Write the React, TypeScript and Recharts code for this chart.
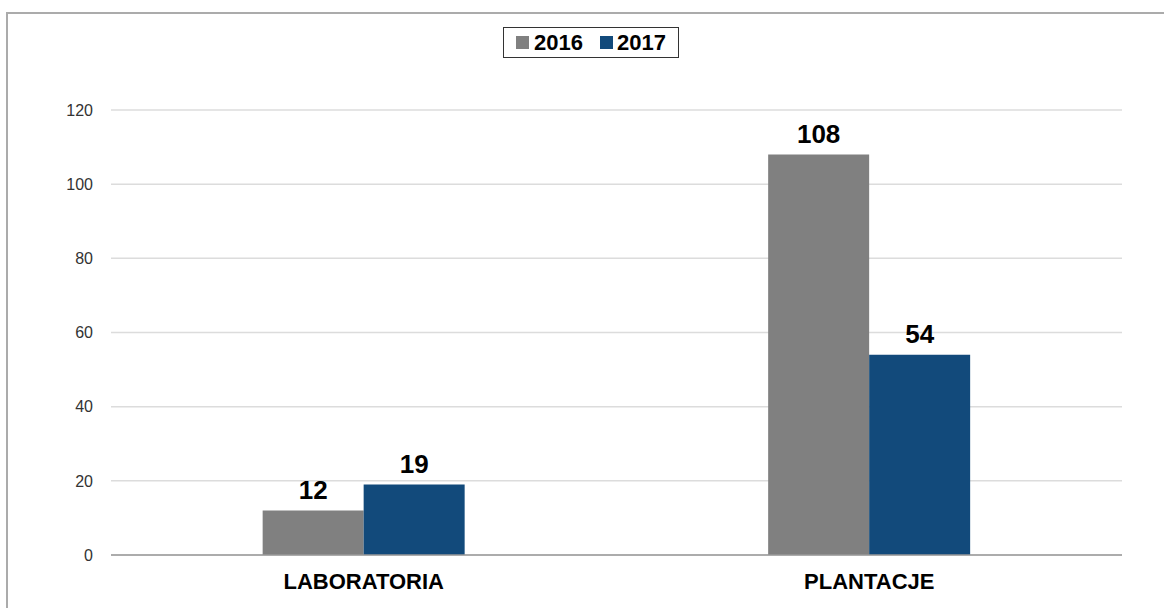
import { Bar, BarChart, CartesianGrid, LabelList, Legend, XAxis, YAxis } from 'recharts';

const categories = ['LABORATORIA', 'PLANTACJE'];
const values2016 = [12, 108];
const values2017 = [19, 54];
const yTicks = [0, 20, 40, 60, 80, 100, 120];

const COLOR_2016 = '#808080';
const COLOR_2017 = '#124a7b';

const chartData = categories.map((name, i) => ({
  name,
  y2016: values2016[i],
  y2017: values2017[i],
}));

// legend box drawn by hand to get the framed look
const renderLegend = () => (
  <div
    style={{
      border: '1px solid #333',
      height: 29,
      display: 'flex',
      alignItems: 'center',
      justifyContent: 'center',
      gap: 17,
      fontFamily: 'Arial, "Liberation Sans", sans-serif',
      fontWeight: 'bold',
      fontSize: 22,
      color: '#000',
      background: '#fff',
    }}
  >
    <span style={{ display: 'flex', alignItems: 'center' }}>
      <span style={{ width: 13, height: 13, background: COLOR_2016, marginRight: 5 }} />
      2016
    </span>
    <span style={{ display: 'flex', alignItems: 'center' }}>
      <span style={{ width: 13, height: 13, background: COLOR_2017, marginRight: 4 }} />
      2017
    </span>
  </div>
);

export default function App() {
  return (
    <div style={{ position: 'relative', width: 1164, height: 608, background: '#fff', overflow: 'hidden' }}>
      <style>{'body { margin: 0; }'}</style>
      {/* outer frame, runs off the right and bottom edges like in the original */}
      <div
        style={{
          position: 'absolute',
          left: 6,
          top: 12,
          width: 1200,
          height: 700,
          border: '2px solid #ababab',
        }}
      />
      <BarChart
        width={1164}
        height={608}
        data={chartData}
        margin={{ top: 79, right: 42, bottom: 23, left: 51 }}
        barCategoryGap="30%"
        barGap={0}
        style={{ position: 'absolute', left: 0, top: 0, fontFamily: 'Arial, "Liberation Sans", sans-serif' }}
      >
        <CartesianGrid vertical={false} stroke="#dcdcdc" strokeWidth={1.5} />
        <XAxis
          dataKey="name"
          height={30}
          axisLine={{ stroke: '#999', strokeWidth: 1.5 }}
          tickLine={false}
          tickMargin={12}
          tick={{ fill: '#000', fontSize: 22, fontWeight: 'bold' }}
        />
        <YAxis
          width={60}
          domain={[0, 120]}
          ticks={yTicks}
          axisLine={false}
          tickLine={false}
          tickSize={0}
          tickMargin={18}
          tick={{ fill: '#333', fontSize: 16 }}
        />
        <Legend
          verticalAlign="top"
          content={renderLegend}
          wrapperStyle={{ top: 27, left: 503, width: 176 }}
        />
        <Bar dataKey="y2016" name="2016" fill={COLOR_2016} isAnimationActive={false}>
          <LabelList dataKey="y2016" position="top" offset={12} fill="#000" fontSize={26} fontWeight="bold" />
        </Bar>
        <Bar dataKey="y2017" name="2017" fill={COLOR_2017} isAnimationActive={false}>
          <LabelList dataKey="y2017" position="top" offset={12} fill="#000" fontSize={26} fontWeight="bold" />
        </Bar>
      </BarChart>
    </div>
  );
}
